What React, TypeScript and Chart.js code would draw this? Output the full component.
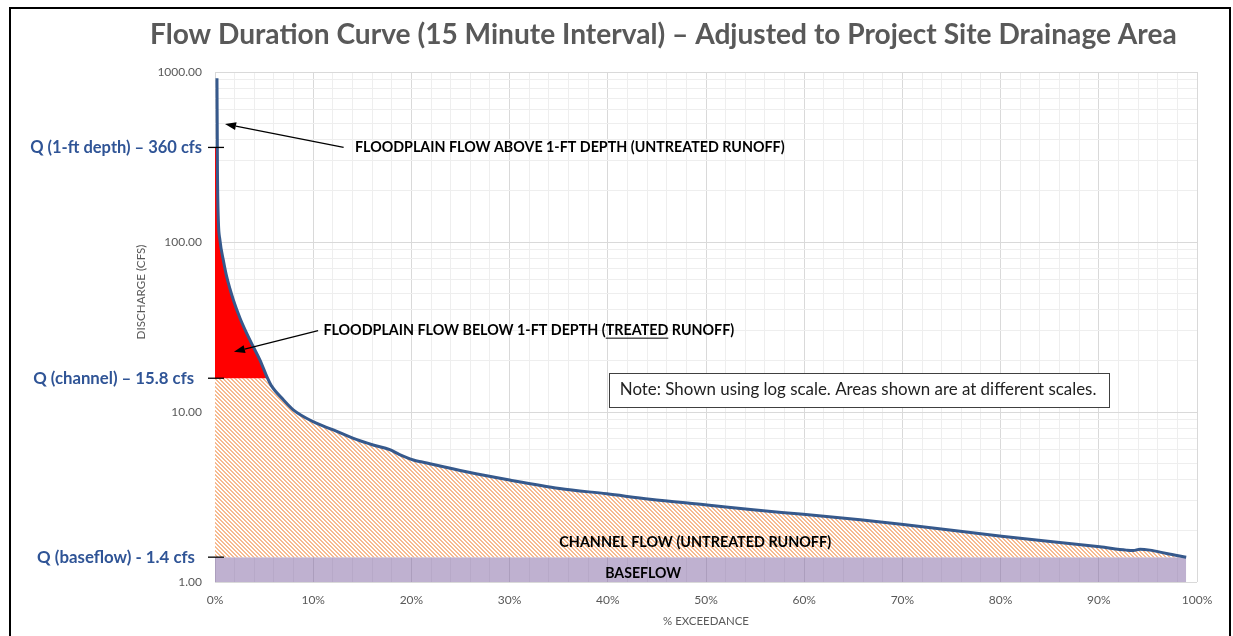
import React, { useEffect, useRef } from 'react';
import { Chart, registerables } from 'chart.js';

Chart.register(...registerables);

// ---- data ----
const exceedancePct = [0.2, 0.25, 0.34, 0.5, 0.85, 1.19, 1.87, 2.55, 3.23, 3.9, 4.58, 5.35, 5.7, 6.96, 7.97, 10.0, 12.05, 14.1, 16.1, 17.8, 18.8, 20.2, 21.1, 25.6, 30.0, 35.1, 39.9, 44.3, 50.1, 54.8, 59.9, 65.7, 70.1, 80.1, 90.1, 92.8, 93.5, 94.2, 95.2, 96.9, 98.9];
const dischargeCfs = [920, 260, 134, 103, 78, 62.5, 45.6, 35.6, 29, 24.2, 20.2, 15.8, 14.4, 11.8, 10.3, 8.77, 7.84, 7.0, 6.4, 6.0, 5.62, 5.22, 5.08, 4.45, 3.98, 3.55, 3.3, 3.07, 2.84, 2.66, 2.5, 2.32, 2.18, 1.86, 1.61, 1.54, 1.53, 1.56, 1.54, 1.47, 1.40];

const Q_FLOOD = 360;
const Q_CHANNEL = 15.8;
const Q_BASE = 1.4;
const baseflowRange = [0, 98.9];

const thresholdValues = [Q_FLOOD, Q_CHANNEL, Q_BASE];
const thresholdLabels = ['Q (1-ft depth) – 360 cfs', 'Q (channel) – 15.8 cfs', 'Q (baseflow) - 1.4 cfs'];

const yTickValues = [1, 10, 100, 1000];
const yTickLabels = ['1.00', '10.00', '100.00', '1000.00'];
const xTickValues = [0, 10, 20, 30, 40, 50, 60, 70, 80, 90, 100];
const xTickLabels = ['0%', '10%', '20%', '30%', '40%', '50%', '60%', '70%', '80%', '90%', '100%'];

const titleText = 'Flow Duration Curve (15 Minute Interval) – Adjusted to Project Site Drainage Area';
const yTitle = 'DISCHARGE (CFS)';
const xTitle = '% EXCEEDANCE';
const noteText = 'Note: Shown using log scale. Areas shown are at different scales.';
const annAbove = 'FLOODPLAIN FLOW ABOVE 1-FT DEPTH (UNTREATED RUNOFF)';
const annBelowPre = 'FLOODPLAIN FLOW BELOW 1-FT DEPTH (';
const annBelowUnder = 'TREATED';
const annBelowPost = ' RUNOFF)';
const channelText = 'CHANNEL FLOW (UNTREATED RUNOFF)';
const baseText = 'BASEFLOW';

const FONT = 'Lato, "Open Sans", sans-serif';

function fitText(ctx: CanvasRenderingContext2D, text: string, x: number, y: number, width: number, weight: string, align: CanvasTextAlign, color: string) {
  ctx.save();
  ctx.font = `${weight} 20px ${FONT}`;
  const w = ctx.measureText(text).width;
  const size = (20 * width) / w;
  ctx.font = `${weight} ${size}px ${FONT}`;
  ctx.fillStyle = color;
  ctx.textAlign = align;
  ctx.textBaseline = 'middle';
  ctx.fillText(text, x, y);
  ctx.restore();
  return size;
}

function arrow(ctx: CanvasRenderingContext2D, x1: number, y1: number, x2: number, y2: number) {
  const ang = Math.atan2(y2 - y1, x2 - x1);
  const L = 11, W = 4;
  const bx = x2 - L * Math.cos(ang), by = y2 - L * Math.sin(ang);
  ctx.save();
  ctx.strokeStyle = '#000';
  ctx.lineWidth = 1.2;
  ctx.beginPath();
  ctx.moveTo(x1, y1);
  ctx.lineTo(bx, by);
  ctx.stroke();
  ctx.fillStyle = '#000';
  ctx.beginPath();
  ctx.moveTo(x2, y2);
  ctx.lineTo(bx + W * Math.sin(ang), by - W * Math.cos(ang));
  ctx.lineTo(bx - W * Math.sin(ang), by + W * Math.cos(ang));
  ctx.closePath();
  ctx.fill();
  ctx.restore();
}

export default function App() {
  const ref = useRef<HTMLCanvasElement>(null);

  useEffect(() => {
    const canvas = ref.current!;
    const ctx = canvas.getContext('2d')!;

    const tile = document.createElement('canvas');
    tile.width = 4;
    tile.height = 4;
    const tctx = tile.getContext('2d')!;
    tctx.fillStyle = '#ffffff';
    tctx.fillRect(0, 0, 4, 4);
    tctx.fillStyle = '#F6BA90';
    for (let y = 0; y < 4; y++) {
      for (let x = 0; x < 4; x++) {
        if ((((x - y) % 4) + 4) % 4 < 2) tctx.fillRect(x, y, 1, 1);
      }
    }
    const hatch = ctx.createPattern(tile, 'repeat');

    const curve = exceedancePct.map((x, i) => ({ x, y: dischargeCfs[i] }));
    const redData = [{ x: 0, y: Q_FLOOD }].concat(
      curve.filter((p) => p.y >= Q_CHANNEL).map((p) => ({ x: p.x, y: Math.min(p.y, Q_FLOOD) }))
    );
    const hatchData = [{ x: 0, y: Q_CHANNEL }].concat(curve.map((p) => ({ x: p.x, y: Math.min(p.y, Q_CHANNEL) })));
    const baseData = baseflowRange.map((x) => ({ x, y: Q_BASE }));

    const yGrid: number[] = [];
    for (let d = 1; d < 1000; d *= 10) for (let k = 1; k < 10; k++) yGrid.push(k * d);
    yGrid.push(1000);

    const overlay = {
      id: 'overlay',
      afterDraw(chart: any) {
        const c = chart.ctx as CanvasRenderingContext2D;
        const xs = chart.scales.x;
        const ys = chart.scales.y;
        const px = (v: number) => xs.getPixelForValue(v);
        const py = (v: number) => ys.getPixelForValue(v);

        // title
        fitText(c, titleText, 150, 35, 1027, 'bold', 'left', '#595959');

        // threshold labels + ticks
        const rights = [202, 194, 195];
        const widths = [172, 161, 158];
        thresholdValues.forEach((v, i) => {
          const y = py(v);
          fitText(c, thresholdLabels[i], rights[i], y, widths[i], 'bold', 'right', '#2F5496');
          c.save();
          c.strokeStyle = '#000';
          c.lineWidth = 1.3;
          c.beginPath();
          c.moveTo(208, y);
          c.lineTo(224, y);
          c.stroke();
          c.restore();
        });

        // axis titles
        c.save();
        c.translate(141, 292);
        c.rotate(-Math.PI / 2);
        fitText(c, yTitle, 0, 0, 95, 'normal', 'center', '#595959');
        c.restore();
        fitText(c, xTitle, px(50), 621, 86, 'normal', 'center', '#595959');

        // annotation above
        arrow(c, px(13.1), py(Q_FLOOD), px(1.02), py(494));
        fitText(c, annAbove, px(14.26), py(Q_FLOOD), 430, 'bold', 'left', '#000');

        // annotation below (with underline)
        arrow(c, px(10.5), py(30.1), px(1.93), py(22.6));
        const full = annBelowPre + annBelowUnder + annBelowPost;
        const tx = px(11.04);
        const ty = py(30.1);
        const size = fitText(c, full, tx, ty, 411, 'bold', 'left', '#000');
        c.save();
        c.font = `bold ${size}px ${FONT}`;
        const preW = c.measureText(annBelowPre).width;
        const uW = c.measureText(annBelowUnder).width;
        c.strokeStyle = '#000';
        c.lineWidth = 1;
        c.beginPath();
        c.moveTo(tx + preW, ty + 7.5);
        c.lineTo(tx + preW + uW, ty + 7.5);
        c.stroke();
        c.restore();

        // note box
        const bx1 = px(40.1), bx2 = px(91.0), by1 = py(16.96), by2 = py(10.7);
        c.save();
        c.fillStyle = '#ffffff';
        c.fillRect(bx1, by1, bx2 - bx1, by2 - by1);
        c.strokeStyle = '#404040';
        c.lineWidth = 1;
        c.strokeRect(Math.round(bx1) + 0.5, Math.round(by1) + 0.5, Math.round(bx2 - bx1), Math.round(by2 - by1));
        c.restore();
        fitText(c, noteText, bx1 + 11, (by1 + by2) / 2, 477, 'normal', 'left', '#222');

        // area labels
        fitText(c, channelText, px(48.9), py(1.72), 272, 'bold', 'center', '#000');
        fitText(c, baseText, px(43.6), py(1.13), 76, 'bold', 'center', '#000');

        // outer frame
        c.save();
        c.strokeStyle = '#000';
        c.lineWidth = 2;
        c.strokeRect(10, 8, 1220, 700);
        c.restore();
      },
    };

    const chart = new Chart(canvas, {
      type: 'line',
      data: {
        datasets: [
          {
            label: 'Flow duration',
            data: curve,
            borderColor: '#36598C',
            borderWidth: 3,
            pointRadius: 0,
            fill: false,
            cubicInterpolationMode: 'monotone',
          },
          {
            label: 'Floodplain below 1-ft',
            data: redData,
            borderColor: 'rgba(0,0,0,0)',
            borderWidth: 0,
            backgroundColor: '#FF0000',
            pointRadius: 0,
            fill: { value: Q_CHANNEL },
            cubicInterpolationMode: 'monotone',
          },
          {
            label: 'Channel flow',
            data: hatchData,
            borderColor: 'rgba(0,0,0,0)',
            borderWidth: 0,
            backgroundColor: hatch as any,
            pointRadius: 0,
            fill: { value: Q_BASE },
            cubicInterpolationMode: 'monotone',
          },
          {
            label: 'Baseflow',
            data: baseData,
            borderColor: 'rgba(0,0,0,0)',
            borderWidth: 0,
            backgroundColor: 'rgba(128,100,162,0.5)',
            pointRadius: 0,
            fill: 'start',
          },
        ],
      } as any,
      options: {
        animation: false,
        responsive: false,
        devicePixelRatio: 1,
        layout: { padding: { left: 0, top: 72, right: 36, bottom: 0 } },
        plugins: {
          legend: { display: false },
          tooltip: { enabled: false },
          title: { display: false },
        },
        scales: {
          x: {
            type: 'linear',
            min: 0,
            max: 100,
            afterFit: (s: any) => {
              s.height = 54;
            },
            border: { display: false },
            grid: {
              drawTicks: false,
              lineWidth: 1,
              color: (c: any) => (c.tick && xTickValues.includes(c.tick.value) ? '#D9D9D9' : '#EEEEEE'),
            },
            ticks: {
              stepSize: 2,
              autoSkip: false,
              maxRotation: 0,
              padding: 11,
              color: '#595959',
              font: { family: FONT, size: 12 },
              callback: (v: any) => {
                const i = xTickValues.indexOf(Number(v));
                return i >= 0 ? xTickLabels[i] : '';
              },
            },
          },
          y: {
            type: 'logarithmic',
            min: 1,
            max: 1000,
            afterFit: (s: any) => {
              s.width = 215;
            },
            afterBuildTicks: (s: any) => {
              s.ticks = yGrid.map((v) => ({ value: v }));
            },
            border: { display: false },
            grid: {
              drawTicks: false,
              lineWidth: 1,
              color: (c: any) => (c.tick && yTickValues.includes(c.tick.value) ? '#D9D9D9' : '#EEEEEE'),
            },
            ticks: {
              autoSkip: false,
              padding: 13,
              color: '#595959',
              font: { family: FONT, size: 12 },
              callback: (v: any) => {
                const i = yTickValues.indexOf(Number(v));
                return i >= 0 ? yTickLabels[i] : '';
              },
            },
          },
        },
      } as any,
      plugins: [overlay],
    });

    return () => chart.destroy();
  }, []);

  return (
    <div style={{ position: 'fixed', left: 0, top: 0, width: 1233, height: 636, background: '#ffffff', overflow: 'hidden' }}>
      <canvas ref={ref} width={1233} height={636} style={{ display: 'block' }} />
    </div>
  );
}
